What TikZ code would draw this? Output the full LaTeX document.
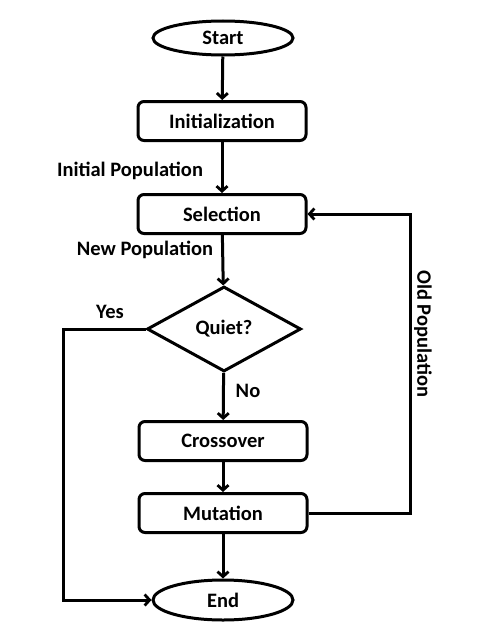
\documentclass[tikz,border=0pt]{standalone}
\usepackage{fontspec}
\setmainfont{Carlito}
\usetikzlibrary{shapes.geometric,arrows.meta}
\begin{document}
\begin{tikzpicture}[x=1pt,y=-1pt,
  every node/.style={font=\fontsize{20.5}{22}\selectfont\bfseries},
  box/.style={draw,line width=3pt,rounded corners=6pt,minimum width=168pt,minimum height=39pt,inner sep=0pt},
  term/.style={draw,ellipse,line width=3pt,minimum width=140pt,minimum height=34pt,inner sep=0pt},
  dec/.style={draw,diamond,line width=3pt,minimum width=154pt,minimum height=85pt,inner sep=0pt},
  lbl/.style={inner sep=0pt},
  arr/.style={line width=3pt,-{Straight Barb[length=5pt,width=11pt,line width=2.8pt]}}]
\useasboundingbox (0,0) rectangle (481,634);
\node[term] (start) at (223,38) {Start};
\node[box] (init) at (222,121) {Initialization};
\node[box] (sel) at (222,214) {Selection};
\node[dec] (q) at (224,329) {Quiet?};
\node[box] (cross) at (223,441) {Crossover};
\node[box] (mut) at (223,513) {Mutation};
\node[term,minimum height=40pt] (end) at (223,600) {End};
\coordinate (yc) at (63,329);
\coordinate (yd) at (63,600);
\coordinate (oc) at (410,513);
\coordinate (od) at (410,214);
\draw[arr] (start) -- (init);
\draw[arr] (init) -- (sel);
\draw[arr] (sel) -- (q);
\draw[arr] (q) -- (cross);
\draw[arr] (cross) -- (mut);
\draw[arr] (mut) -- (end);
\draw[arr] (q.west) -- (yc) -- (yd) -- (end.west);
\draw[arr] (mut.east) -- (oc) -- (od) -- (sel.east);
\node[lbl] (l1) at (130,171) {Initial Population};
\node[lbl] (l2) at (145,250) {New Population};
\node[lbl] (l3) at (110,312) {Yes};
\node[lbl] (l4) at (248,391) {No};
\node[lbl,rotate=-90] (l5) at (423,334) {Old Population};
\end{tikzpicture}
\end{document}
